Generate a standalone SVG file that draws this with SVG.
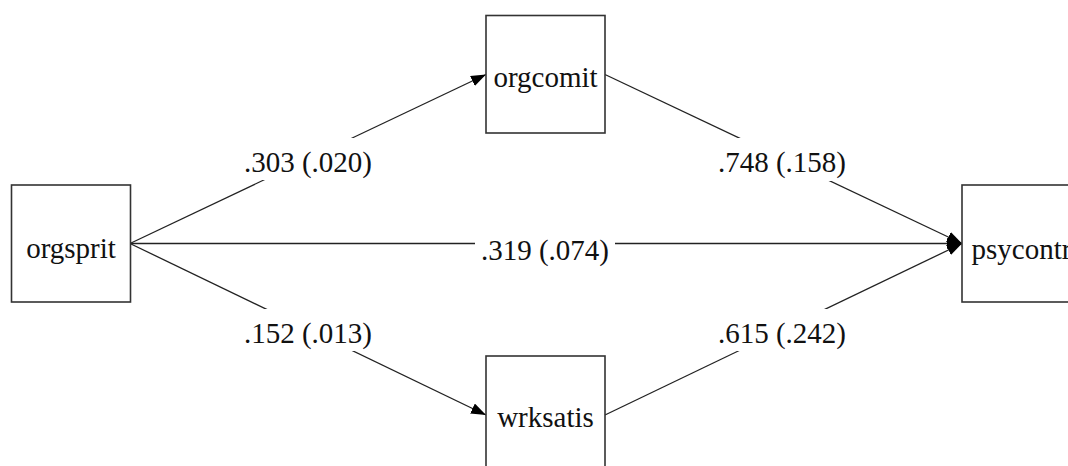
<svg xmlns="http://www.w3.org/2000/svg" width="1068" height="466" viewBox="0 0 1068 466">
<defs>
<marker id="arr" markerUnits="userSpaceOnUse" markerWidth="18" markerHeight="14" refX="15" refY="5.5" orient="auto">
<path d="M0,0 L15,5.5 L0,11 z" fill="#000"/>
</marker>
<style>
.box{fill:#fff;stroke:#333;stroke-width:1.6}
.edge{stroke:#222;stroke-width:1.3;fill:none;marker-end:url(#arr)}
.bg{fill:#fff;stroke:none}
.t{font-family:'Liberation Serif','DejaVu Serif',serif;font-size:29px;fill:#111;text-anchor:middle}
</style>
</defs>
<rect width="1068" height="466" fill="#fff"/>
<g id="connectors">
<path class="edge" d="M130,243.5 L486,74.5"/>
<path class="edge" d="M130,243.5 L962,243.5"/>
<path class="edge" d="M130,243.5 L486,415"/>
<path class="edge" d="M605,74.5 L962,243.5"/>
<path class="edge" d="M605,415 L962,243.5"/>
<rect class="bg" x="238" y="138" width="140" height="42"/>
<rect class="bg" x="475" y="222" width="140" height="42"/>
<rect class="bg" x="238" y="309" width="140" height="42"/>
<rect class="bg" x="712" y="138" width="140" height="43"/>
<rect class="bg" x="712" y="309" width="140" height="42"/>
<text class="t" font-family="Liberation Serif, serif" x="308" y="172">.303 (.020)</text>
<text class="t" font-family="Liberation Serif, serif" x="545" y="260">.319 (.074)</text>
<text class="t" font-family="Liberation Serif, serif" x="308" y="343">.152 (.013)</text>
<text class="t" font-family="Liberation Serif, serif" x="782" y="172">.748 (.158)</text>
<text class="t" font-family="Liberation Serif, serif" x="782" y="343">.615 (.242)</text>
</g>
<g id="orgsprit">
<rect class="box" x="11.5" y="185" width="119" height="117"/>
<text class="t" font-family="Liberation Serif, serif" x="71" y="258">orgsprit</text>
</g>
<g id="orgcomit">
<rect class="box" x="486" y="15.5" width="119" height="117.5"/>
<text class="t" font-family="Liberation Serif, serif" x="545.5" y="87">orgcomit</text>
</g>
<g id="wrksatis">
<rect class="box" x="486" y="356" width="119" height="117.5"/>
<text class="t" font-family="Liberation Serif, serif" x="545.5" y="427">wrksatis</text>
</g>
<g id="psycontr">
<rect class="box" x="962" y="185" width="119" height="117"/>
<text class="t" font-family="Liberation Serif, serif" x="1021.5" y="259">psycontr</text>
</g>
</svg>
